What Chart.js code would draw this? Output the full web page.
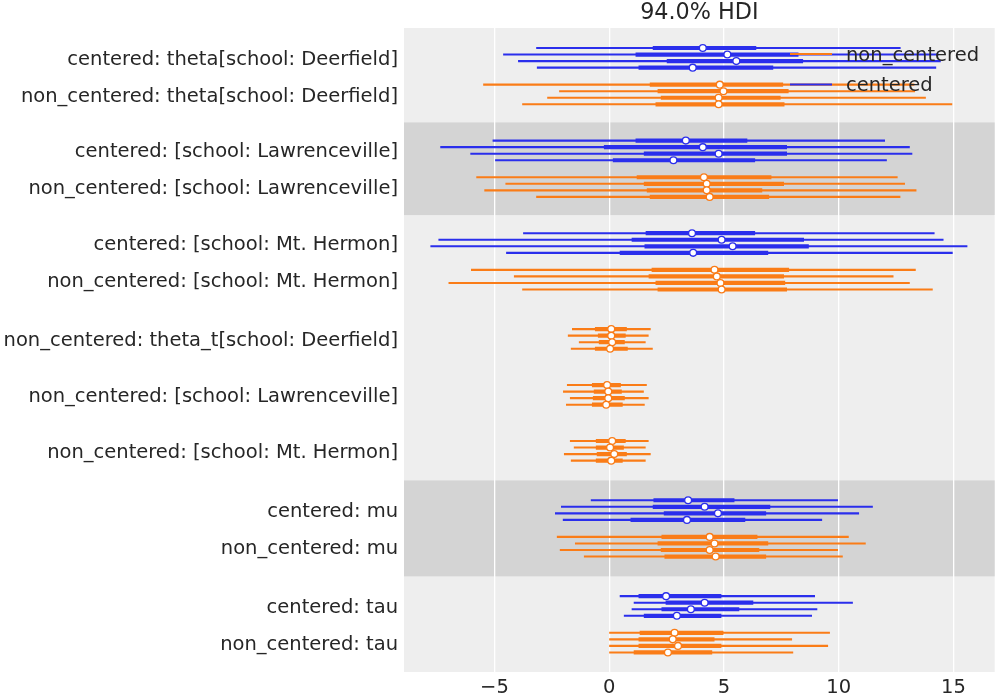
<!DOCTYPE html>
<html>
  <head>
    <meta charset="utf-8">
    <title>94.0% HDI</title>
    <script src="https://cdn.jsdelivr.net/npm/chart.js@4.4.0/dist/chart.umd.min.js"></script>
    <style>
      body { margin: 0; background: #fff; }
    </style>
  </head>
  <body>
    <canvas id="chart" width="1000" height="700"></canvas>

    <script type="text/javascript">

      // one row per chain: [hdi 94% low, 50% low, median, 50% high, hdi 94% high]
      const cDeerfield = [
        [-3.18, 1.90, 4.08, 6.41, 12.70],
        [-4.62, 1.15, 5.15, 8.25, 14.36],
        [-3.97, 2.51, 5.54, 8.45, 14.45],
        [-3.15, 1.28, 3.64, 7.15, 14.25]
      ];
      const ncDeerfield = [
        [-5.49, 1.77, 4.82, 7.58, 13.30],
        [-2.18, 2.11, 4.98, 7.82, 13.33],
        [-2.70, 2.25, 4.77, 7.47, 13.80],
        [-3.79, 2.02, 4.77, 7.64, 14.95]
      ];
      const cLawrenceville = [
        [-5.08, 1.15, 3.34, 6.02, 12.02],
        [-7.36, -0.23, 4.08, 7.75, 13.10],
        [-6.05, 1.51, 4.77, 7.75, 13.21],
        [-4.97, 0.16, 2.80, 6.36, 12.10]
      ];
      const ncLawrenceville = [
        [-5.79, 1.20, 4.13, 7.07, 12.57],
        [-4.52, 1.51, 4.25, 7.62, 12.89],
        [-5.44, 1.64, 4.25, 6.67, 13.39],
        [-3.18, 1.77, 4.38, 6.97, 12.69]
      ];
      const cMtHermon = [
        [-3.75, 1.59, 3.61, 6.36, 14.18],
        [-7.44, 0.98, 4.90, 8.49, 14.57],
        [-7.79, 1.54, 5.38, 8.70, 15.61],
        [-4.49, 0.46, 3.66, 6.93, 14.97]
      ];
      const ncMtHermon = [
        [-6.02, 1.85, 4.59, 7.84, 13.36],
        [-4.15, 1.72, 4.69, 7.62, 12.39],
        [-7.00, 2.02, 4.85, 7.67, 13.10],
        [-3.79, 2.11, 4.90, 7.75, 14.10]
      ];
      const ncThetaTDeerfield = [
        [-1.62, -0.62, 0.09, 0.77, 1.81],
        [-1.80, -0.49, 0.09, 0.72, 1.72],
        [-1.32, -0.45, 0.13, 0.68, 1.59],
        [-1.67, -0.62, 0.04, 0.81, 1.90]
      ];
      const ncThetaTLawrenceville = [
        [-1.84, -0.75, -0.09, 0.51, 1.64],
        [-2.01, -0.67, -0.04, 0.55, 1.51],
        [-1.71, -0.71, -0.04, 0.68, 1.72],
        [-1.88, -0.75, -0.13, 0.59, 1.55]
      ];
      const ncThetaTMtHermon = [
        [-1.71, -0.58, 0.13, 0.72, 1.72],
        [-1.54, -0.58, 0.04, 0.64, 1.59],
        [-1.97, -0.54, 0.22, 0.77, 1.81],
        [-1.67, -0.58, 0.09, 0.59, 1.59]
      ];
      const cMu = [
        [-0.80, 1.93, 3.44, 5.46, 9.97],
        [-2.10, 1.90, 4.16, 7.02, 11.49],
        [-2.36, 2.38, 4.74, 6.84, 10.89],
        [-2.02, 0.93, 3.39, 5.93, 9.28]
      ];
      const ncMu = [
        [-2.28, 2.28, 4.38, 6.46, 10.44],
        [-1.49, 2.11, 4.59, 6.93, 11.18],
        [-2.15, 2.25, 4.38, 6.54, 9.97],
        [-1.10, 2.41, 4.64, 6.84, 10.18]
      ];
      const cTau = [
        [0.46, 1.28, 2.48, 4.89, 8.97],
        [1.07, 2.46, 4.16, 6.28, 10.62],
        [0.98, 2.28, 3.56, 5.67, 9.07],
        [0.64, 1.51, 2.95, 4.89, 8.84]
      ];
      const ncTau = [
        [0.00, 1.33, 2.85, 4.98, 9.62],
        [0.00, 1.28, 2.77, 4.59, 7.97],
        [0.00, 1.28, 3.00, 4.89, 9.54],
        [0.00, 1.07, 2.56, 4.49, 8.02]
      ];

      const tickLabels = [
        'centered: theta[school: Deerfield]',
        'non_centered: theta[school: Deerfield]',
        'centered: [school: Lawrenceville]',
        'non_centered: [school: Lawrenceville]',
        'centered: [school: Mt. Hermon]',
        'non_centered: [school: Mt. Hermon]',
        'non_centered: theta_t[school: Deerfield]',
        'non_centered: [school: Lawrenceville]',
        'non_centered: [school: Mt. Hermon]',
        'centered: mu',
        'non_centered: mu',
        'centered: tau',
        'non_centered: tau'
      ];
      const xTicks = [-5, 0, 5, 10, 15];
      const legendLabels = ['non_centered', 'centered'];

      const colors = { centered: '#2a2eec', non_centered: '#fa7c17' };
      const font = 'DejaVu Sans';
      const textColor = '#262626';

      // row layout (in pixels of the plot height)
      const CHAIN_STEP = 6.55, MODEL_GAP = 17, COORD_GAP = 36.3, VAR_GAP = 39.6, TOP = 20;
      const LABEL_SHIFT = 2;
      const blocks = [
        { gap: 0, shade: false, groups: [['centered', cDeerfield], ['non_centered', ncDeerfield]] },
        { gap: COORD_GAP, shade: true, groups: [['centered', cLawrenceville], ['non_centered', ncLawrenceville]] },
        { gap: COORD_GAP, shade: false, groups: [['centered', cMtHermon], ['non_centered', ncMtHermon]] },
        { gap: VAR_GAP, shade: false, groups: [['non_centered', ncThetaTDeerfield]] },
        { gap: COORD_GAP, shade: false, groups: [['non_centered', ncThetaTLawrenceville]] },
        { gap: COORD_GAP, shade: false, groups: [['non_centered', ncThetaTMtHermon]] },
        { gap: VAR_GAP, shade: true, groups: [['centered', cMu], ['non_centered', ncMu]] },
        { gap: VAR_GAP, shade: false, groups: [['centered', cTau], ['non_centered', ncTau]] }
      ];

      const labelYs = [];
      const bands = [];
      const series = { centered: { thin: [], thick: [], med: [] }, non_centered: { thin: [], thick: [], med: [] } };

      let pos = TOP;
      blocks.forEach((b, bi) => {
        if (bi > 0) pos += b.gap;
        const top = pos;
        b.groups.forEach(([model, chains], gi) => {
          if (gi > 0) pos += MODEL_GAP;
          const ys = [];
          chains.forEach((c, ci) => {
            if (ci > 0) pos += CHAIN_STEP;
            const s = series[model];
            s.thin.push({ x: c[0], y: pos }, { x: c[4], y: pos }, { x: c[0], y: null });
            s.thick.push({ x: c[1], y: pos }, { x: c[3], y: pos }, { x: c[1], y: null });
            s.med.push({ x: c[2], y: pos });
            ys.push(pos);
          });
          labelYs.push((ys[0] + ys[ys.length - 1]) / 2 + LABEL_SHIFT);
        });
        if (b.shade) {
          const next = blocks[bi + 1] ? blocks[bi + 1].gap : VAR_GAP;
          bands.push([top - b.gap / 2, pos + next / 2]);
        }
      });

      const datasets = [];
      ['centered', 'non_centered'].forEach((m) => {
        datasets.push({
          label: m, data: series[m].med, order: 0, showLine: false,
          pointRadius: 3.4, pointBorderWidth: 1.3,
          pointBackgroundColor: '#ffffff', pointBorderColor: colors[m]
        });
        datasets.push({
          label: m + ' 50%', data: series[m].thick, order: 1, showLine: true, spanGaps: false,
          pointRadius: 0, borderWidth: 4.2, borderColor: colors[m], borderCapStyle: 'butt'
        });
        datasets.push({
          label: m + ' 94%', data: series[m].thin, order: 2, showLine: true, spanGaps: false,
          pointRadius: 0, borderWidth: 2.1, borderColor: colors[m], borderCapStyle: 'butt'
        });
      });

      const backdrop = {
        id: 'backdrop',
        beforeDraw(chart) {
          const { ctx, chartArea: a, scales } = chart;
          ctx.save();
          ctx.fillStyle = '#eeeeee';
          ctx.fillRect(a.left, a.top, a.right - a.left, a.bottom - a.top);
          ctx.fillStyle = '#d4d4d4';
          bands.forEach(([y0, y1]) => {
            const p0 = scales.y.getPixelForValue(y0);
            const p1 = scales.y.getPixelForValue(y1);
            ctx.fillRect(a.left, p0, a.right - a.left, p1 - p0);
          });
          ctx.restore();
        }
      };

      const forestLegend = {
        id: 'forestLegend',
        afterDraw(chart) {
          const ctx = chart.ctx;
          ctx.save();
          ctx.font = '19.5px "' + font + '"';
          ctx.textBaseline = 'middle';
          ctx.textAlign = 'left';
          legendLabels.forEach((name, i) => {
            const y = 54 + i * 30.5;
            ctx.strokeStyle = colors[name];
            ctx.lineWidth = 2.1;
            ctx.beginPath();
            ctx.moveTo(790, y);
            ctx.lineTo(832, y);
            ctx.stroke();
            ctx.fillStyle = textColor;
            ctx.fillText(name, 846, y + 1.5);
          });
          ctx.restore();
        }
      };

      const ctx = document.getElementById('chart').getContext('2d');
      new Chart(ctx, {
        type: 'scatter',
        data: { datasets: datasets },
        plugins: [backdrop, forestLegend],
        options: {
          responsive: false,
          animation: false,
          layout: { padding: { left: 0, right: 4, top: 0, bottom: 0 } },
          plugins: {
            legend: { display: false },
            tooltip: { enabled: false },
            title: {
              display: true, text: '94.0% HDI', fullSize: false, color: textColor,
              font: { family: font, size: 22.3, weight: 'normal', lineHeight: 1 },
              padding: { top: 2, bottom: 3.7 }
            }
          },
          scales: {
            x: {
              type: 'linear', min: -8.94, max: 16.8,
              afterBuildTicks: (s) => { s.ticks = xTicks.map((v) => ({ value: v })); },
              afterFit: (s) => { s.height = 28; },
              grid: { color: '#ffffff', lineWidth: 1.3, drawTicks: false },
              border: { display: false },
              ticks: {
                color: textColor, padding: 4, font: { family: font, size: 19.5 },
                callback: (v) => (v < 0 ? '\u2212' + Math.abs(v) : String(v))
              }
            },
            y: {
              type: 'linear', min: 0, max: 644, reverse: true,
              afterBuildTicks: (s) => { s.ticks = labelYs.map((v) => ({ value: v })); },
              afterFit: (s) => { s.width = 404; },
              grid: { display: false, drawTicks: false },
              border: { display: false },
              ticks: {
                autoSkip: false, color: textColor, padding: 6, font: { family: font, size: 19.5 },
                callback: (v, i) => tickLabels[i]
              }
            }
          }
        }
      });

    </script>
  </body>
</html>
